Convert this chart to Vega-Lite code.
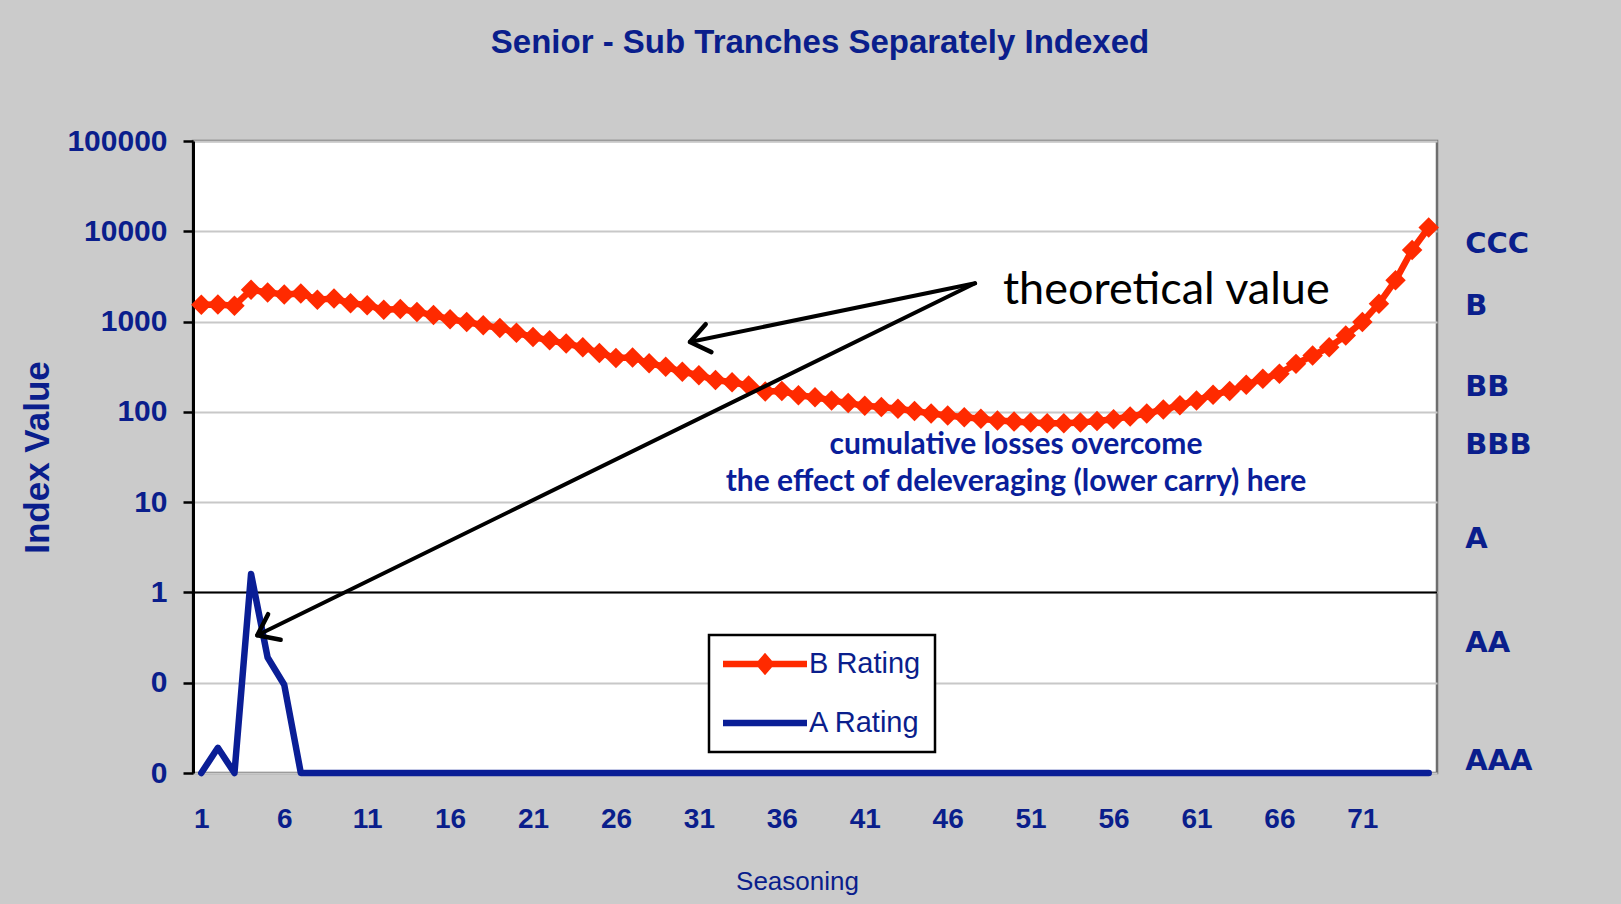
{
  "$schema": "https://vega.github.io/schema/vega-lite/v6.json",
  "width": 1244,
  "height": 632,
  "autosize": {"type": "none"},
  "padding": {"left": 193, "top": 141, "right": 184, "bottom": 131},
  "background": "#CBCBCB",
  "title": {
    "text": "Senior - Sub Tranches Separately Indexed",
    "font": "Liberation Sans",
    "fontSize": 33,
    "fontWeight": "bold",
    "color": "#0A1E8C",
    "anchor": "middle",
    "baseline": "alphabetic",
    "offset": 40,
    "dx": 5
  },
  "datasets": {
    "series": [
      {"t":1,"series":"B Rating","value":1540},{"t":2,"series":"B Rating","value":1550},{"t":3,"series":"B Rating","value":1500},{"t":4,"series":"B Rating","value":2250},{"t":5,"series":"B Rating","value":2100},
      {"t":6,"series":"B Rating","value":2000},{"t":7,"series":"B Rating","value":2050},{"t":8,"series":"B Rating","value":1750},{"t":9,"series":"B Rating","value":1800},{"t":10,"series":"B Rating","value":1600},
      {"t":11,"series":"B Rating","value":1520},{"t":12,"series":"B Rating","value":1350},{"t":13,"series":"B Rating","value":1380},{"t":14,"series":"B Rating","value":1280},{"t":15,"series":"B Rating","value":1180},
      {"t":16,"series":"B Rating","value":1060},{"t":17,"series":"B Rating","value":990},{"t":18,"series":"B Rating","value":910},{"t":19,"series":"B Rating","value":850},{"t":20,"series":"B Rating","value":750},
      {"t":21,"series":"B Rating","value":675},{"t":22,"series":"B Rating","value":620},{"t":23,"series":"B Rating","value":570},{"t":24,"series":"B Rating","value":520},{"t":25,"series":"B Rating","value":450},
      {"t":26,"series":"B Rating","value":395},{"t":27,"series":"B Rating","value":400},{"t":28,"series":"B Rating","value":345},{"t":29,"series":"B Rating","value":315},{"t":30,"series":"B Rating","value":278},
      {"t":31,"series":"B Rating","value":255},{"t":32,"series":"B Rating","value":225},{"t":33,"series":"B Rating","value":213},{"t":34,"series":"B Rating","value":196},{"t":35,"series":"B Rating","value":168},
      {"t":36,"series":"B Rating","value":170},{"t":37,"series":"B Rating","value":153},{"t":38,"series":"B Rating","value":145},{"t":39,"series":"B Rating","value":134},{"t":40,"series":"B Rating","value":125},
      {"t":41,"series":"B Rating","value":117},{"t":42,"series":"B Rating","value":113},{"t":43,"series":"B Rating","value":108},{"t":44,"series":"B Rating","value":102},{"t":45,"series":"B Rating","value":96},
      {"t":46,"series":"B Rating","value":91},{"t":47,"series":"B Rating","value":87},{"t":48,"series":"B Rating","value":84},{"t":49,"series":"B Rating","value":80},{"t":50,"series":"B Rating","value":78},
      {"t":51,"series":"B Rating","value":76},{"t":52,"series":"B Rating","value":75},{"t":53,"series":"B Rating","value":75},{"t":54,"series":"B Rating","value":76},{"t":55,"series":"B Rating","value":79},
      {"t":56,"series":"B Rating","value":83},{"t":57,"series":"B Rating","value":89},{"t":58,"series":"B Rating","value":96},{"t":59,"series":"B Rating","value":106},{"t":60,"series":"B Rating","value":118},
      {"t":61,"series":"B Rating","value":134},{"t":62,"series":"B Rating","value":155},{"t":63,"series":"B Rating","value":170},{"t":64,"series":"B Rating","value":200},{"t":65,"series":"B Rating","value":232},
      {"t":66,"series":"B Rating","value":265},{"t":67,"series":"B Rating","value":340},{"t":68,"series":"B Rating","value":420},{"t":69,"series":"B Rating","value":520},{"t":70,"series":"B Rating","value":700},
      {"t":71,"series":"B Rating","value":990},{"t":72,"series":"B Rating","value":1580},{"t":73,"series":"B Rating","value":2860},{"t":74,"series":"B Rating","value":6200},{"t":75,"series":"B Rating","value":11000},
      {"t":1,"series":"A Rating","value":0.01},{"t":2,"series":"A Rating","value":0.019},{"t":3,"series":"A Rating","value":0.01},{"t":4,"series":"A Rating","value":1.6},{"t":5,"series":"A Rating","value":0.19},
      {"t":6,"series":"A Rating","value":0.095},{"t":7,"series":"A Rating","value":0.01},{"t":8,"series":"A Rating","value":0.01},{"t":9,"series":"A Rating","value":0.01},{"t":10,"series":"A Rating","value":0.01},
      {"t":11,"series":"A Rating","value":0.01},{"t":12,"series":"A Rating","value":0.01},{"t":13,"series":"A Rating","value":0.01},{"t":14,"series":"A Rating","value":0.01},{"t":15,"series":"A Rating","value":0.01},
      {"t":16,"series":"A Rating","value":0.01},{"t":17,"series":"A Rating","value":0.01},{"t":18,"series":"A Rating","value":0.01},{"t":19,"series":"A Rating","value":0.01},{"t":20,"series":"A Rating","value":0.01},
      {"t":21,"series":"A Rating","value":0.01},{"t":22,"series":"A Rating","value":0.01},{"t":23,"series":"A Rating","value":0.01},{"t":24,"series":"A Rating","value":0.01},{"t":25,"series":"A Rating","value":0.01},
      {"t":26,"series":"A Rating","value":0.01},{"t":27,"series":"A Rating","value":0.01},{"t":28,"series":"A Rating","value":0.01},{"t":29,"series":"A Rating","value":0.01},{"t":30,"series":"A Rating","value":0.01},
      {"t":31,"series":"A Rating","value":0.01},{"t":32,"series":"A Rating","value":0.01},{"t":33,"series":"A Rating","value":0.01},{"t":34,"series":"A Rating","value":0.01},{"t":35,"series":"A Rating","value":0.01},
      {"t":36,"series":"A Rating","value":0.01},{"t":37,"series":"A Rating","value":0.01},{"t":38,"series":"A Rating","value":0.01},{"t":39,"series":"A Rating","value":0.01},{"t":40,"series":"A Rating","value":0.01},
      {"t":41,"series":"A Rating","value":0.01},{"t":42,"series":"A Rating","value":0.01},{"t":43,"series":"A Rating","value":0.01},{"t":44,"series":"A Rating","value":0.01},{"t":45,"series":"A Rating","value":0.01},
      {"t":46,"series":"A Rating","value":0.01},{"t":47,"series":"A Rating","value":0.01},{"t":48,"series":"A Rating","value":0.01},{"t":49,"series":"A Rating","value":0.01},{"t":50,"series":"A Rating","value":0.01},
      {"t":51,"series":"A Rating","value":0.01},{"t":52,"series":"A Rating","value":0.01},{"t":53,"series":"A Rating","value":0.01},{"t":54,"series":"A Rating","value":0.01},{"t":55,"series":"A Rating","value":0.01},
      {"t":56,"series":"A Rating","value":0.01},{"t":57,"series":"A Rating","value":0.01},{"t":58,"series":"A Rating","value":0.01},{"t":59,"series":"A Rating","value":0.01},{"t":60,"series":"A Rating","value":0.01},
      {"t":61,"series":"A Rating","value":0.01},{"t":62,"series":"A Rating","value":0.01},{"t":63,"series":"A Rating","value":0.01},{"t":64,"series":"A Rating","value":0.01},{"t":65,"series":"A Rating","value":0.01},
      {"t":66,"series":"A Rating","value":0.01},{"t":67,"series":"A Rating","value":0.01},{"t":68,"series":"A Rating","value":0.01},{"t":69,"series":"A Rating","value":0.01},{"t":70,"series":"A Rating","value":0.01},
      {"t":71,"series":"A Rating","value":0.01},{"t":72,"series":"A Rating","value":0.01},{"t":73,"series":"A Rating","value":0.01},{"t":74,"series":"A Rating","value":0.01},{"t":75,"series":"A Rating","value":0.01}
    ],
    "arrows": [
      {"arrow":"a1","t":47.65,"value":2655,"t2":30.46,"value2":594},
      {"arrow":"a2","t":47.65,"value":2655,"t2":4.377,"value2":0.335}
    ],
    "heads": [
      {"arrow":"a1","t":30.46,"value":594},
      {"arrow":"a2","t":4.377,"value":0.335}
    ],
    "notes": [
      {"label":"cumulative losses overcome","t":50.12,"value":43.2},
      {"label":"the effect of deleveraging (lower carry) here","t":50.12,"value":16.7}
    ],
    "callout": [
      {"label":"theoretical value","t":49.33,"value":2220}
    ],
    "ratings": [
      {"rating":"CCC","value":7190},
      {"rating":"B","value":1505},
      {"rating":"BB","value":187},
      {"rating":"BBB","value":43},
      {"rating":"A","value":3.93},
      {"rating":"AA","value":0.277},
      {"rating":"AAA","value":0.0135}
    ],
    "unity": [{"value":1}]
  },
  "layer": [
    {
      "data": {"name": "unity"},
      "mark": {"type": "rule", "color": "black", "strokeWidth": 2},
      "encoding": {
        "y": {"field": "value", "type": "quantitative", "title": "Index Value", "scale": {"type": "log", "domain": [0.01, 100000], "nice": false}}
      }
    },
    {
      "data": {"name": "series"},
      "mark": {"type": "line", "strokeWidth": 6.5, "strokeCap": "round", "strokeJoin": "round", "clip": false},
      "encoding": {
        "x": {
          "field": "t", "type": "quantitative", "title": "Seasoning",
          "scale": {"domain": [0.5, 75.5], "nice": false, "zero": false},
          "axis": {
            "values": [1,6,11,16,21,26,31,36,41,46,51,56,61,66,71],
            "grid": false, "ticks": false, "domain": false,
            "labelFont": "Liberation Sans", "labelFontSize": 28, "labelFontWeight": "bold", "labelColor": "#0A1E8C",
            "labelPadding": 32,
            "titleFont": "Liberation Sans", "titleFontSize": 26, "titleFontWeight": "normal", "titleColor": "#0A1E8C",
            "titlePadding": 35, "titleX": 604
          }
        },
        "y": {
          "field": "value", "type": "quantitative", "title": "Index Value",
          "scale": {"type": "log", "domain": [0.01, 100000], "nice": false},
          "axis": {
            "values": [0.01, 0.1, 1, 10, 100, 1000, 10000, 100000],
            "labelExpr": "datum.value < 1 ? '0' : format(datum.value, 'd')",
            "grid": true, "gridColor": "#C8C8C8", "gridWidth": 2,
            "domain": true, "domainColor": "black", "domainWidth": 3,
            "ticks": true, "tickColor": "black", "tickSize": 10, "tickWidth": 2.5,
            "labelFont": "Liberation Sans", "labelFontSize": 30, "labelFontWeight": "bold", "labelColor": "#0A1E8C",
            "labelPadding": 16,
            "titleFont": "Liberation Sans", "titleFontSize": 35, "titleFontWeight": "bold", "titleColor": "#0A1E8C",
            "titlePadding": 11
          }
        },
        "color": {
          "field": "series", "type": "nominal",
          "scale": {"domain": ["B Rating", "A Rating"], "range": ["#FF2A00", "#0A1E96"]},
          "legend": {
            "orient": "none", "legendX": 516, "legendY": 494, "title": null,
            "fillColor": "white", "strokeColor": "black",
            "padding": 14, "rowPadding": 29,
            "labelFont": "Liberation Sans", "labelFontSize": 29, "labelColor": "#0A1E8C", "labelOffset": 56,
            "symbolSize": 900,
            "encode": {
              "symbols": {
                "update": {
                  "shape": {"signal": "datum.value === 'B Rating' ? 'M-2.8,-0.22L2.8,-0.22L2.8,0.22L-2.8,0.22Z M-0.65,0L0,-0.75L0.65,0L0,0.75Z' : 'M-2.8,-0.22L2.8,-0.22L2.8,0.22L-2.8,0.22Z'"},
                  "fill": {"signal": "datum.value === 'B Rating' ? '#FF2A00' : '#0A1E96'"},
                  "x": {"value": 42},
                  "strokeWidth": {"value": 0},
                  "opacity": {"value": 1}
                }
              },
              "legend": {"update": {"strokeWidth": {"value": 2.5}}}
            }
          }
        }
      }
    },
    {
      "data": {"name": "series"},
      "transform": [{"filter": "datum.series === 'B Rating'"}],
      "mark": {"type": "point", "shape": "diamond", "filled": true, "size": 420, "opacity": 1, "color": "#FF2A00", "clip": false},
      "encoding": {
        "x": {"field": "t", "type": "quantitative", "title": "Seasoning"},
        "y": {"field": "value", "type": "quantitative", "title": "Index Value", "scale": {"type": "log", "domain": [0.01, 100000], "nice": false}}
      }
    },
    {
      "data": {"name": "arrows"},
      "mark": {"type": "rule", "color": "black", "strokeWidth": 4, "strokeCap": "round"},
      "encoding": {
        "x": {"field": "t", "type": "quantitative", "title": "Seasoning"},
        "y": {"field": "value", "type": "quantitative", "title": "Index Value", "scale": {"type": "log", "domain": [0.01, 100000], "nice": false}},
        "x2": {"field": "t2"},
        "y2": {"field": "value2"}
      }
    },
    {
      "data": {"name": "heads"},
      "mark": {"type": "point", "shape": "M-1,-0.75L0,0L-1,0.75", "filled": false, "size": 1444, "stroke": "black", "strokeWidth": 4.5, "strokeCap": "round", "strokeJoin": "round", "opacity": 1},
      "encoding": {
        "x": {"field": "t", "type": "quantitative", "title": "Seasoning"},
        "y": {"field": "value", "type": "quantitative", "title": "Index Value", "scale": {"type": "log", "domain": [0.01, 100000], "nice": false}},
        "angle": {"condition": {"test": "datum.arrow === 'a1'", "value": 168.4}, "value": 153.9}
      }
    },
    {
      "data": {"name": "callout"},
      "mark": {"type": "text", "font": "Lato", "fontSize": 45, "color": "black", "align": "left", "baseline": "middle"},
      "encoding": {
        "x": {"field": "t", "type": "quantitative", "title": "Seasoning"},
        "y": {"field": "value", "type": "quantitative", "title": "Index Value", "scale": {"type": "log", "domain": [0.01, 100000], "nice": false}},
        "text": {"field": "label"}
      }
    },
    {
      "data": {"name": "notes"},
      "mark": {"type": "text", "font": "Lato", "fontSize": 30, "fontWeight": "bold", "color": "#0A1E9A", "align": "center", "baseline": "middle"},
      "encoding": {
        "x": {"field": "t", "type": "quantitative", "title": "Seasoning"},
        "y": {"field": "value", "type": "quantitative", "title": "Index Value", "scale": {"type": "log", "domain": [0.01, 100000], "nice": false}},
        "text": {"field": "label"}
      }
    },
    {
      "data": {"name": "ratings"},
      "mark": {"type": "text", "font": "DejaVu Sans", "fontSize": 29, "fontWeight": "bold", "color": "#0A1E8C", "align": "left", "baseline": "middle", "clip": false},
      "encoding": {
        "x": {"datum": 77.2, "type": "quantitative"},
        "y": {"field": "value", "type": "quantitative", "title": "Index Value", "scale": {"type": "log", "domain": [0.01, 100000], "nice": false}},
        "text": {"field": "rating"}
      }
    }
  ],
  "config": {
    "view": {"fill": "white", "stroke": "#6E6E6E", "strokeWidth": 2.5}
  }
}
